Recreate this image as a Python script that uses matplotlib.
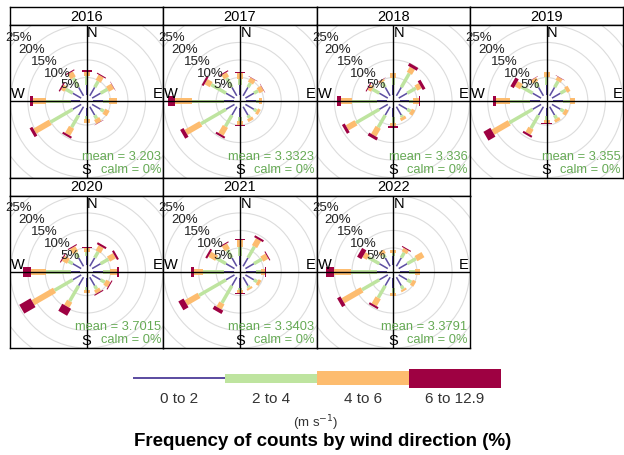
import matplotlib
matplotlib.use('Agg')
import matplotlib.pyplot as plt
from matplotlib.patches import Polygon, Rectangle, Circle
import numpy as np

plt.rcParams['font.family'] = ['Liberation Sans', 'DejaVu Sans']

# wind direction sectors (degrees from north) and speed bins
directions = [0, 30, 60, 90, 120, 150, 180, 210, 240, 270, 300, 330]
bin_labels = ['0 to 2', '2 to 4', '4 to 6', '6 to 12.9']
bin_colors = ['#5E4FA2', '#BEE49F', '#FDBC6F', '#9E0142']

years = ['2016', '2017', '2018', '2019', '2020', '2021', '2022']
means = ['3.203', '3.3323', '3.336', '3.355', '3.7015', '3.3403', '3.3791']

# frequency (%) per direction, columns = speed bins
freq_2016 = [[2.8, 2.6, 1.3, 0.4], [2.8, 2.0, 1.7, 0.3], [2.8, 2.3, 1.7, 0.1], [2.8, 1.7, 2.3, 0.1],
             [2.8, 1.1, 1.4, 0.0], [2.8, 1.1, 1.3, 0.1], [2.5, 0.9, 1.0, 0.1], [2.8, 4.0, 2.3, 0.6],
             [2.8, 7.4, 5.1, 0.9], [2.8, 6.9, 3.7, 0.9], [2.8, 2.3, 1.1, 0.4], [2.8, 3.1, 1.7, 0.3]]
freq_2017 = [[2.8, 1.7, 1.7, 0.3], [2.8, 1.4, 1.4, 0.1], [2.8, 1.4, 1.4, 0.1], [2.8, 0.9, 0.9, 0.0],
             [2.8, 0.9, 0.9, 0.0], [2.8, 0.9, 0.9, 0.0], [2.8, 1.1, 1.1, 0.3], [2.8, 3.7, 2.6, 0.6],
             [2.8, 8.3, 4.9, 1.1], [2.8, 9.1, 4.9, 2.0], [2.8, 4.9, 1.7, 0.6], [2.8, 3.1, 1.4, 0.3]]
freq_2018 = [[2.8, 2.0, 1.4, 0.1], [2.8, 4.6, 1.7, 0.9], [2.8, 2.9, 1.4, 0.9], [2.8, 1.1, 1.7, 0.3],
             [2.8, 1.1, 1.1, 0.0], [2.8, 0.6, 0.9, 0.0], [2.8, 1.7, 0.9, 0.3], [2.8, 4.0, 2.6, 0.9],
             [2.8, 7.7, 2.9, 0.9], [2.8, 7.1, 3.1, 1.4], [2.8, 2.3, 1.1, 0.3], [2.8, 1.7, 0.6, 0.1]]
freq_2019 = [[2.8, 2.3, 1.4, 0.0], [2.8, 2.0, 1.1, 0.1], [2.8, 1.7, 1.1, 0.0], [2.8, 2.0, 1.4, 0.0],
             [2.8, 1.1, 1.1, 0.0], [2.8, 1.1, 0.9, 0.0], [2.5, 1.1, 0.9, 0.2], [2.8, 4.3, 1.7, 0.6],
             [2.8, 7.7, 5.4, 2.3], [2.8, 5.7, 4.0, 0.9], [2.8, 3.7, 1.7, 1.1], [2.8, 1.7, 1.1, 0.1]]
freq_2020 = [[2.8, 1.1, 1.1, 0.3], [2.8, 2.0, 1.7, 0.6], [2.8, 2.6, 2.0, 0.6], [2.8, 2.0, 2.0, 0.6],
             [2.8, 1.4, 1.4, 0.3], [2.8, 1.1, 1.1, 0.3], [2.5, 1.0, 0.9, 0.0], [2.8, 5.1, 1.7, 2.3],
             [2.8, 6.0, 7.1, 3.7], [2.8, 6.9, 4.3, 2.3], [2.8, 1.4, 1.7, 0.3], [2.8, 1.7, 1.7, 0.3]]
freq_2021 = [[2.8, 2.6, 2.0, 0.3], [2.8, 3.7, 2.3, 0.6], [2.8, 2.6, 1.7, 0.3], [2.8, 1.4, 1.1, 0.3],
             [2.8, 1.1, 0.9, 0.0], [2.8, 0.6, 0.6, 0.0], [2.8, 0.6, 0.9, 0.3], [2.8, 5.7, 1.7, 1.1],
             [2.8, 8.9, 4.3, 1.7], [2.8, 6.0, 2.6, 0.9], [2.8, 3.1, 2.3, 0.6], [2.8, 2.6, 1.7, 0.3]]
freq_2022 = [[2.8, 0.9, 0.6, 0.0], [2.8, 1.7, 1.1, 0.3], [2.8, 2.9, 2.3, 0.0], [2.8, 1.7, 1.4, 0.0],
             [2.8, 1.4, 1.1, 0.0], [2.8, 1.1, 0.6, 0.0], [2.8, 1.4, 0.9, 0.0], [2.8, 4.0, 2.3, 0.6],
             [2.8, 5.7, 6.3, 1.1], [2.8, 7.4, 4.9, 2.3], [2.8, 3.7, 1.4, 1.4], [2.8, 1.1, 1.1, 0.0]]
all_freq = [freq_2016, freq_2017, freq_2018, freq_2019, freq_2020, freq_2021, freq_2022]

grid_levels = [5, 10, 15, 20, 25, 30]
label_levels = [5, 10, 15, 20, 25]

W, H = 624, 455
fig = plt.figure(figsize=(W / 100, H / 100), dpi=100)

def px_axes(x, y, w, h):
    return fig.add_axes([x / W, 1 - (y + h) / H, w / W, h / H])

offset = 1.8      # hole in the middle (%)
k = 3.5           # pixels per %
pad_w = [0.45, 1.0, 1.7, 2.9]   # paddle widths (%)
col_x = [10, 163.3, 316.6, 469.9]
col_w = 153.3
strip_h = 18
panel_h = 152.5
row_y = [7, 177.5]
txt_green = '#66aa55'

for n, yr in enumerate(years):
    r, c = divmod(n, 4)
    x0 = col_x[c]
    ys = row_y[r]
    # strip
    sax = px_axes(x0, ys, col_w, strip_h)
    sax.set_xticks([]); sax.set_yticks([])
    sax.text(0.5, 0.45, yr, ha='center', va='center', fontsize=10.5, transform=sax.transAxes)
    for s in sax.spines.values():
        s.set_linewidth(1.0)

    ax = px_axes(x0, ys + strip_h, col_w, panel_h)
    hw = col_w / 2 / k
    hh = panel_h / 2 / k
    ax.set_xlim(-hw, hw)
    ax.set_ylim(-hh, hh)
    ax.set_xticks([]); ax.set_yticks([])
    for s in ax.spines.values():
        s.set_linewidth(1.0)

    for lv in grid_levels:
        ax.add_patch(Circle((0, 0), lv + offset, fill=False, ec='#dcdcdc', lw=0.8, zorder=1))

    ax.axhline(0, color='black', lw=1.0, zorder=5)
    ax.axvline(0, color='black', lw=1.0, zorder=5)

    data = all_freq[n]
    for d, row in zip(directions, data):
        th = np.radians(d)
        u = np.array([np.sin(th), np.cos(th)])
        p = np.array([np.cos(th), -np.sin(th)])
        cum = 0.0
        for i, v in enumerate(row):
            if v <= 0:
                continue
            r0 = offset + cum
            r1 = offset + cum + v
            hwid = pad_w[i] / 2
            pts = [r0 * u + hwid * p, r1 * u + hwid * p, r1 * u - hwid * p, r0 * u - hwid * p]
            ax.add_patch(Polygon(pts, closed=True, fc=bin_colors[i], ec='none', zorder=3 + i * 0.1))
            cum += v

    ang = np.radians(313)
    for lv in label_levels:
        rr = lv + offset - 0.2
        ax.text(rr * np.sin(ang), rr * np.cos(ang), f'{lv}%', ha='center', va='center',
                fontsize=9.5, color='#222222', zorder=6)

    ax.text(0.1, hh - 0.4, 'N', ha='left', va='top', fontsize=10.5, zorder=6)
    ax.text(0, -hh + 0.1, 'S', ha='center', va='bottom', fontsize=10.5, zorder=6)
    ax.text(-hw + 0.3, 0.05, 'W', ha='left', va='bottom', fontsize=10.5, zorder=6)
    ax.text(hw - 0.3, 0.05, 'E', ha='right', va='bottom', fontsize=10.5, zorder=6)

    ax.text(0.985, 0.135, f'mean = {means[n]}', ha='right', va='center', fontsize=9.3,
            color=txt_green, transform=ax.transAxes, zorder=6)
    ax.text(0.985, 0.012, 'calm = 0%', ha='right', va='bottom', fontsize=9.3,
            color=txt_green, transform=ax.transAxes, zorder=6)

# legend key
lax = px_axes(133, 366, 368, 24)
lax.set_xlim(0, 4)
lax.set_ylim(-12, 12)
lax.axis('off')
key_h = [2, 9, 14, 19]
for i, lab in enumerate(bin_labels):
    lax.add_patch(Rectangle((i, -key_h[i] / 2), 1, key_h[i], fc=bin_colors[i], ec='none'))
    fig.text((133 + 92 * i + 46) / W, 1 - 399 / H, lab, ha='center', va='center',
             fontsize=11, color='#333333')

fig.text(316 / W, 1 - 423 / H, '(m s$^{-1}$)', ha='center', va='center', fontsize=9.5, color='#333333')
fig.text(323 / W, 1 - 442 / H, 'Frequency of counts by wind direction (%)', ha='center',
         va='center', fontsize=13.5, fontweight='bold')

fig.savefig('out.png', dpi=100)
